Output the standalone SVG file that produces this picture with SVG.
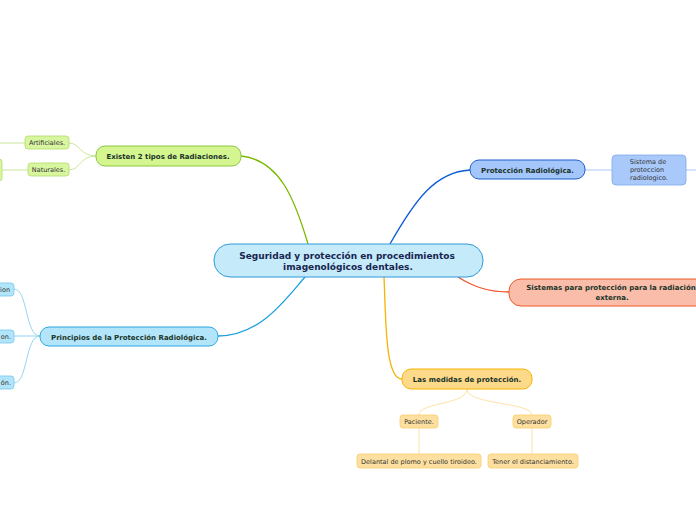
<svg xmlns="http://www.w3.org/2000/svg" width="696" height="520" viewBox="0 0 696 520">
<style>
text{font-family:"DejaVu Sans","Verdana",sans-serif;}
.t1{font-size:9px;fill:#17254f;font-weight:bold;}
.t2{font-size:7px;font-weight:bold;fill:#1a3328;}
.t3{font-size:6.5px;fill:#333;}
.c{fill:none;stroke-width:1.3;}
.s{fill:none;stroke-width:1;}
</style>
<rect width="696" height="520" fill="#ffffff"/>
<g id="connectors">
<path class="c" stroke="#7ab800" d="M241,156 C280,160 295,200 308,244"/>
<path class="c" stroke="#0a5bd6" d="M390,244 C415,200 435,172 470,170"/>
<path class="c" stroke="#f04e23" d="M458,277 C475,288 490,292 509,292"/>
<path class="c" stroke="#1ea0e0" d="M218,336 C260,336 285,300 305,277"/>
<path class="c" stroke="#f5b400" d="M384,277 C386,320 385,379 402,379"/>
<path class="s" stroke="#c8e69a" d="M96,156 C80,156 80,143 69,143 M96,156 C80,156 80,170 69,170 M25,143 L0,143 M28,170 L2,170"/>
<path class="s" stroke="#a9c8f6" d="M585,170 L612,170 M686,170 L696,170"/>
<path class="s" stroke="#92d6f2" d="M40,336 C25,336 28,289 14,289 M40,336 L14,336 M40,336 C25,336 28,383 14,383"/>
<path class="s" stroke="#fde3a6" d="M467,389 C467,405 419,402 419,415 M467,389 C467,405 532,402 532,415 M419,428 L419,454 M532,428 L532,454"/>
</g>
<g id="central">
<rect x="214" y="244" width="269" height="33" rx="16" fill="#c5eafa" stroke="#2d9ad8" stroke-width="1"/>
<text class="t1" x="347" y="259" text-anchor="middle">Seguridad y protección en procedimientos</text>
<text class="t1" x="348" y="270" text-anchor="middle">imagenológicos dentales.</text>
</g>
<g id="radiaciones">
<rect x="96" y="146" width="145" height="20" rx="9" fill="#d4f590" stroke="#8cc63f"/>
<text class="t2" x="168" y="159" text-anchor="middle">Existen 2 tipos de Radiaciones.</text>
</g>
<g id="artificiales">
<rect x="25" y="136" width="44" height="13" rx="3" fill="#d8f5a0" stroke="#b3dc6a" stroke-width="0.8"/>
<text class="t3" x="47" y="145" text-anchor="middle">Artificiales.</text>
</g>
<g id="naturales">
<rect x="28" y="163" width="41" height="13" rx="3" fill="#d8f5a0" stroke="#b3dc6a" stroke-width="0.8"/>
<text class="t3" x="48.5" y="172" text-anchor="middle">Naturales.</text>
</g>
<g id="naturales-child">
<rect x="-10" y="159" width="12" height="22" rx="3" fill="#d8f5a0" stroke="#b3dc6a" stroke-width="0.8"/>
</g>
<g id="proteccion">
<rect x="470" y="160" width="115" height="19" rx="9" fill="#a4c6fa" stroke="#1c5ecb"/>
<text class="t2" x="527.5" y="172.5" text-anchor="middle">Protección Radiológica.</text>
</g>
<g id="sistema">
<rect x="612" y="155" width="74" height="30" rx="4" fill="#a9c9fb" stroke="#7ea8ec" stroke-width="0.8"/>
<text class="t3" x="648" y="164" text-anchor="middle">Sistema de</text>
<text class="t3" x="647" y="172" text-anchor="middle">proteccion</text>
<text class="t3" x="649" y="180" text-anchor="middle">radiologico.</text>
</g>
<g id="sistemas-externa">
<rect x="509" y="279" width="200" height="27" rx="12" fill="#f9bda9" stroke="#f05a28"/>
<text class="t2" x="611" y="290" text-anchor="middle">Sistemas para protección para la radiación</text>
<text class="t2" x="612" y="299.5" text-anchor="middle">externa.</text>
</g>
<g id="principios">
<rect x="40" y="327" width="178" height="19" rx="9" fill="#b2e5f9" stroke="#2aa8e0"/>
<text class="t2" x="129" y="339.5" text-anchor="middle">Principios de la Protección Radiológica.</text>
</g>
<g id="principio-1">
<rect x="-30" y="283" width="44" height="13" rx="3" fill="#b2e5f9" stroke="#74c8ee" stroke-width="0.8"/>
<text class="t3" x="10" y="292" text-anchor="end">ion</text>
</g>
<g id="principio-2">
<rect x="-30" y="330" width="44" height="13" rx="3" fill="#b2e5f9" stroke="#74c8ee" stroke-width="0.8"/>
<text class="t3" x="11" y="339" text-anchor="end">on.</text>
</g>
<g id="principio-3">
<rect x="-30" y="376" width="44" height="13" rx="3" fill="#b2e5f9" stroke="#74c8ee" stroke-width="0.8"/>
<text class="t3" x="11" y="385" text-anchor="end">ón.</text>
</g>
<g id="medidas">
<rect x="402" y="369" width="130" height="20" rx="9" fill="#fdd98a" stroke="#f7b500"/>
<text class="t2" x="467" y="382" text-anchor="middle">Las medidas de protección.</text>
</g>
<g id="paciente">
<rect x="400" y="415" width="38" height="13" rx="3" fill="#fde0a0" stroke="#f8cd6a" stroke-width="0.8"/>
<text class="t3" x="419" y="424" text-anchor="middle">Paciente.</text>
</g>
<g id="operador">
<rect x="513" y="415" width="38" height="13" rx="3" fill="#fde0a0" stroke="#f8cd6a" stroke-width="0.8"/>
<text class="t3" x="532" y="424" text-anchor="middle">Operador</text>
</g>
<g id="delantal">
<rect x="357" y="454" width="124" height="14" rx="3" fill="#fde0a0" stroke="#f8cd6a" stroke-width="0.8"/>
<text class="t3" x="419" y="463.5" text-anchor="middle">Delantal de plomo y cuello tiroideo.</text>
</g>
<g id="distanciamiento">
<rect x="488" y="454" width="90" height="14" rx="3" fill="#fde0a0" stroke="#f8cd6a" stroke-width="0.8"/>
<text class="t3" x="533" y="463.5" text-anchor="middle">Tener el distanciamiento.</text>
</g>
</svg>
